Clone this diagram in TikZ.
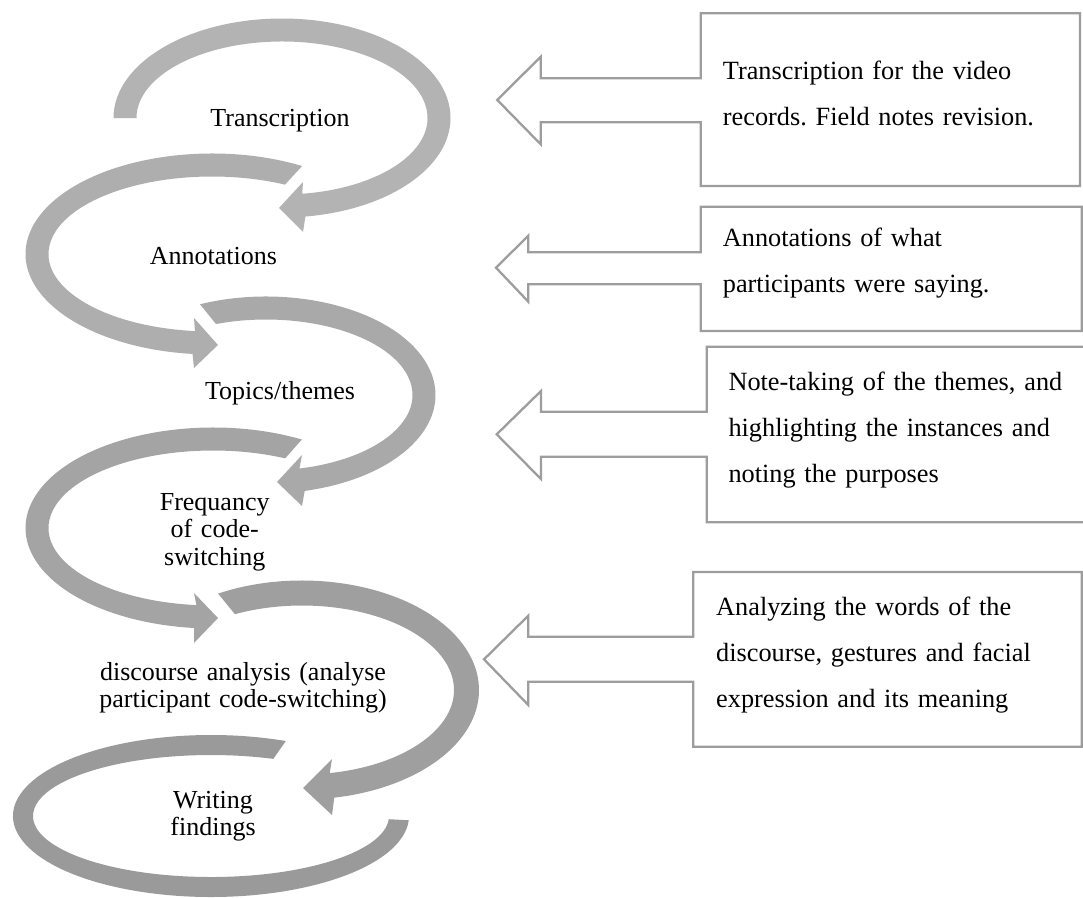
\documentclass[tikz,border=0pt]{standalone}
\usepackage{fontspec}
\setmainfont{Liberation Serif}
\usetikzlibrary{calc}
\definecolor{ca}{HTML}{B3B3B3}
\definecolor{cb}{HTML}{AEAEAE}
\definecolor{cc}{HTML}{A9A9A9}
\definecolor{cd}{HTML}{A4A4A4}
\definecolor{ce}{HTML}{9F9F9F}
\definecolor{cf}{HTML}{9A9A9A}
\definecolor{outl}{HTML}{9D9D9D}
\frenchspacing
\begin{document}
\begin{tikzpicture}[x=1pt,y=1pt]
\tikzset{
  lbl/.style={font=\fontsize{26}{27.5}\selectfont, text width=320pt, align=center, inner sep=0pt, anchor=base},
  note/.style={font=\fontsize{26.3}{46}\selectfont, text width=360pt, align=left, inner sep=0pt, anchor=base west},
  callout/.style={draw=outl, line width=2.3pt, line join=miter, fill=white}
}
\useasboundingbox (0,0) rectangle (1083,-897);
\clip (0,0) rectangle (1083,-897);

% ---------- curved arrows ----------
% arrow 6 (writing findings)
\fill[cf] ($(211,-816)+(67.8:198 and 81)$) arc[start angle=67.8, end angle=357, x radius=198, y radius=81]
  -- ($(211,-816)+(357:178 and 61)$) arc[start angle=357, end angle=69.5, x radius=178, y radius=61] -- cycle;
% arrow 5 (discourse)
\fill[ce] ($(302,-690)+(118.3:177 and 109.5)$) arc[start angle=118.3, end angle=-79.5, x radius=177, y radius=109.5]
  -- (332,-815) -- (303,-788) -- (332,-759)
  -- ($(302,-690)+(-79.5:152 and 84.5)$) arc[start angle=-79.5, end angle=116.2, x radius=152, y radius=84.5] -- cycle;
% arrow 4 (frequancy)
\fill[cd] ($(213,-528)+(61.7:187.5 and 100.5)$) arc[start angle=61.7, end angle=264.2, x radius=187.5, y radius=100.5]
  -- (194,-643) -- (218,-618) -- (194,-593)
  -- ($(213,-528)+(264.2:164.5 and 77.5)$) arc[start angle=264.2, end angle=64.0, x radius=164.5, y radius=77.5] -- cycle;
% arrow 3 (topics)
\fill[cc] ($(266,-395)+(112.9:169.5 and 98.5)$) arc[start angle=112.9, end angle=-76.8, x radius=169.5, y radius=98.5]
  -- (302,-506) -- (277,-482) -- (302,-455)
  -- ($(266,-395)+(-76.8:146.5 and 75.5)$) arc[start angle=-76.8, end angle=109.96, x radius=146.5, y radius=75.5] -- cycle;
% arrow 2 (annotations)
\fill[cb] ($(212,-254)+(61.1:186.5 and 100.5)$) arc[start angle=61.1, end angle=264, x radius=186.5, y radius=100.5]
  -- (194,-368) -- (218,-345) -- (194,-318)
  -- ($(212,-254)+(264:163.5 and 77.5)$) arc[start angle=264, end angle=63.5, x radius=163.5, y radius=77.5] -- cycle;
% arrow 1 (transcription)
\fill[ca] ($(282,-118)+(180:168.5 and 99.5)$) arc[start angle=180, end angle=-82, x radius=168.5, y radius=99.5]
  -- (303,-232) -- (279,-208) -- (303,-182)
  -- ($(282,-118)+(-82:145.5 and 76.5)$) arc[start angle=-82, end angle=180, x radius=145.5, y radius=76.5] -- cycle;

% ---------- labels in loops ----------
\node[lbl] (l1) at (280,-126.7) {Transcription};
\node[lbl] (l2) at (213.5,-264) {Annotations};
\node[lbl] (l3) at (280,-399.5) {Topics/themes};
\node[lbl] (l4) at (214.7,-510) {Frequancy\\of code-\\switching};
\node[lbl] (l5) at (243,-680) {discourse analysis (analyse\\participant code-switching)};
\node[lbl] (l6) at (213,-808) {Writing\\findings};

% ---------- callouts ----------
\draw[callout] (700.7,-78.3) -- (540.7,-78.3) -- (540.7,-56.7) -- (497.3,-100) -- (540.7,-144.3) -- (540.7,-122.3)
  -- (700.7,-122.3) -- (700.7,-186) -- (1080,-186) -- (1080,-13.3) -- (700.7,-13.3) -- cycle;
\draw[callout] (700.7,-252.3) -- (528.3,-252.3) -- (528.3,-235.7) -- (496,-267.7) -- (528.3,-301.7) -- (528.3,-284.3)
  -- (700.7,-284.3) -- (700.7,-331) -- (1081.7,-331) -- (1081.7,-206.7) -- (700.7,-206.7) -- cycle;
\draw[callout] (706.7,-411.7) -- (541,-411.7) -- (541,-391) -- (496.7,-434.3) -- (541,-479) -- (541,-456.7)
  -- (706.7,-456.7) -- (706.7,-522.3) -- (1095,-522.3) -- (1095,-346.7) -- (706.7,-346.7) -- cycle;
\draw[callout] (693.3,-636.7) -- (528.3,-636.7) -- (528.3,-615.7) -- (484,-659.3) -- (528.3,-705) -- (528.3,-681.7)
  -- (693.3,-681.7) -- (693.3,-746.7) -- (1081.7,-746.7) -- (1081.7,-572) -- (693.3,-572) -- cycle;

\node[note] (t1) at (722.7,-79) {Transcription for the video\\records. Field notes revision.};
\node[note] (t2) at (722.7,-246.7) {Annotations of what\\participants were saying.};
\node[note] (t3) at (728.3,-390.7) {Note-taking of the themes, and\\highlighting the instances and\\noting the purposes};
\node[note] (t4) at (716,-615.7) {Analyzing the words of the\\discourse, gestures and facial\\expression and its meaning};
\end{tikzpicture}
\end{document}
